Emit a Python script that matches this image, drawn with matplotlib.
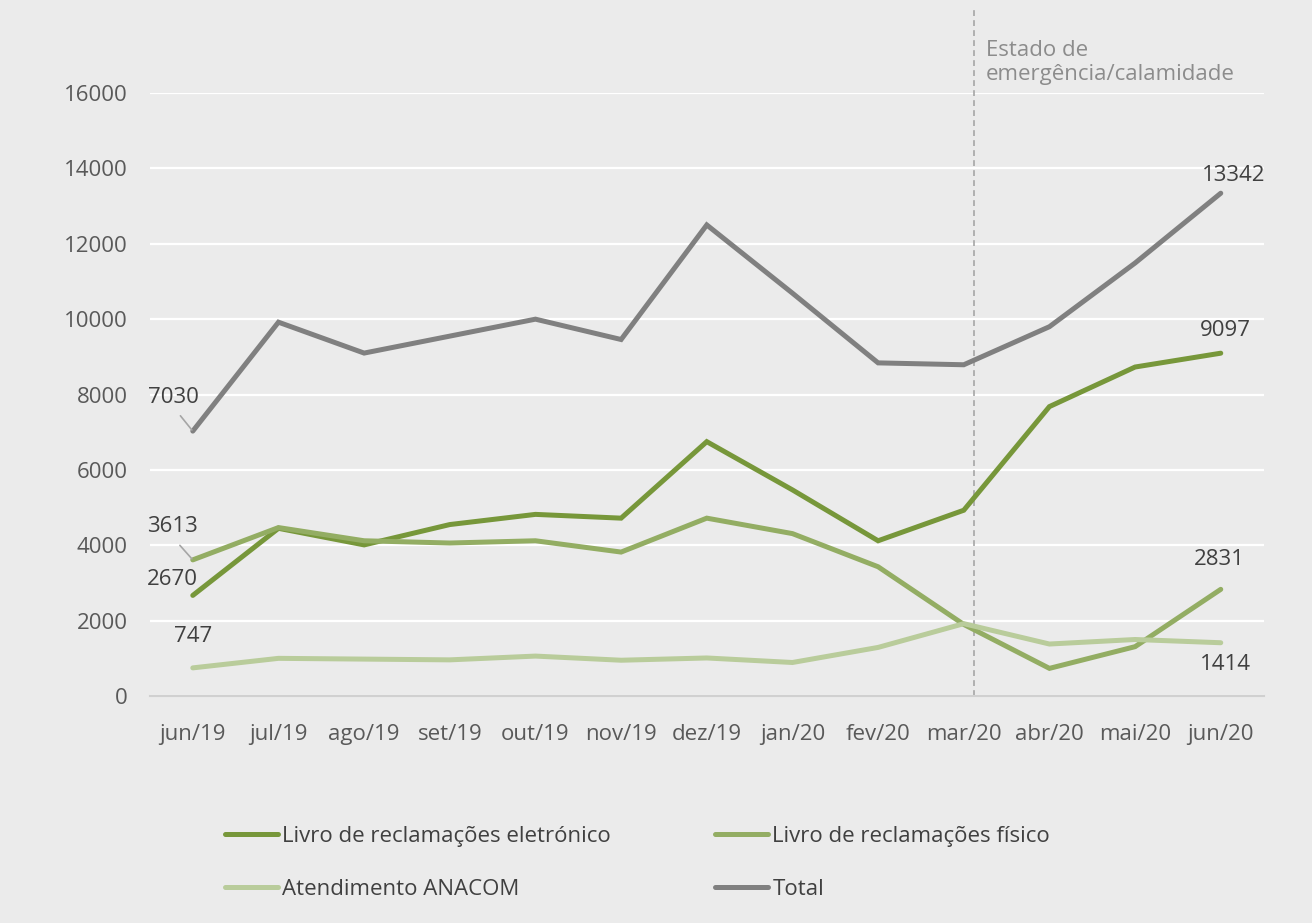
import matplotlib.pyplot as plt
import numpy as np

plt.rcParams['font.family'] = ['Open Sans', 'DejaVu Sans']

meses = ['jun/19', 'jul/19', 'ago/19', 'set/19', 'out/19', 'nov/19', 'dez/19',
         'jan/20', 'fev/20', 'mar/20', 'abr/20', 'mai/20', 'jun/20']

eletronico = [2670, 4450, 4010, 4550, 4820, 4720, 6750, 5470, 4120, 4930, 7680, 8730, 9097]
fisico = [3613, 4470, 4120, 4060, 4120, 3820, 4720, 4310, 3430, 1900, 734, 1310, 2831]
anacom = [747, 1000, 980, 960, 1060, 950, 1010, 890, 1290, 1920, 1380, 1500, 1414]
total = [7030, 9920, 9100, 9550, 10000, 9460, 12500, 10690, 8840, 8790, 9800, 11490, 13342]

nomes = ['Livro de reclamações eletrónico', 'Livro de reclamações físico',
         'Atendimento ANACOM', 'Total']
cores = ['#77973A', '#93AD63', '#B9CC9B', '#808080']

bg = '#EBEBEB'
txt = '#595959'
fs = 16

fig = plt.figure(figsize=(13.12, 9.23), dpi=100, facecolor=bg)
ax = fig.add_axes([0.1143, 0.2459, 0.8488, 0.6533], facecolor=bg)

x = np.arange(len(meses))
series = [eletronico, fisico, anacom, total]
linhas = []
for vals, nome, cor in zip(series, nomes, cores):
	ln, = ax.plot(x, vals, color=cor, lw=3.6, label=nome, solid_capstyle='round',
		solid_joinstyle='miter', zorder=3)
	linhas.append(ln)

ax.set_xlim(-0.5, 12.5)
ax.set_ylim(0, 16000)
ax.set_yticks(np.arange(0, 16001, 2000))
ax.set_xticks(x)
ax.set_xticklabels(meses)
ax.yaxis.grid(True, color='white', lw=1.6)
ax.set_axisbelow(True)
for s in ['top', 'right', 'left']:
	ax.spines[s].set_visible(False)
ax.spines['bottom'].set_color('#D0D0D0')
ax.spines['bottom'].set_linewidth(1.5)
ax.tick_params(axis='both', length=0, labelsize=fs, labelcolor=txt)
ax.tick_params(axis='y', pad=16)
ax.tick_params(axis='x', pad=20)

# estado de emergência
xe = 9.12
ax.plot([xe, xe], [0, 1.138], transform=ax.get_xaxis_transform(), color='#A6A6A6',
	lw=1.2, ls=(0, (3.5, 2.5)), clip_on=False, zorder=2)
ax.text(9.26, 1.05, 'Estado de\nemergência/calamidade', transform=ax.get_xaxis_transform(),
	color='#8C8C8C', fontsize=fs, va='center', ha='left', linespacing=1.2)

# rótulos de dados
def rotulo(i, v, dx, dy, guia=False):
	kw = {}
	if guia:
		kw['arrowprops'] = dict(arrowstyle='-', color='#A6A6A6', lw=1.2,
			shrinkA=5, shrinkB=1, relpos=(0.5, 0))
	ax.annotate(str(v), xy=(i, v), xytext=(dx, dy), textcoords='offset pixels',
		ha='center', va='center', fontsize=fs, color='#404040', **kw)

rotulo(0, total[0], -19, 34, guia=True)
rotulo(0, fisico[0], -20, 33, guia=True)
rotulo(0, eletronico[0], -20, 16)
rotulo(0, anacom[0], 0, 31)
rotulo(12, total[12], 13, 18)
rotulo(12, eletronico[12], 5, 23)
rotulo(12, fisico[12], -1, 30)
rotulo(12, anacom[12], 5, -22)

# ordem por linhas: eletrónico, físico / ANACOM, total
ordem = [0, 2, 1, 3]
leg = fig.legend([linhas[k] for k in ordem], [nomes[k] for k in ordem],
	ncol=2, loc='upper left', bbox_to_anchor=(0.156, 0.127),
	frameon=False, fontsize=fs, handlelength=2.4, handletextpad=0.2,
	columnspacing=4.65, labelspacing=1.45, labelcolor='#404040')
for h in leg.get_lines():
	h.set_linewidth(3.6)

fig.savefig('out.png', dpi=100, facecolor=bg)
